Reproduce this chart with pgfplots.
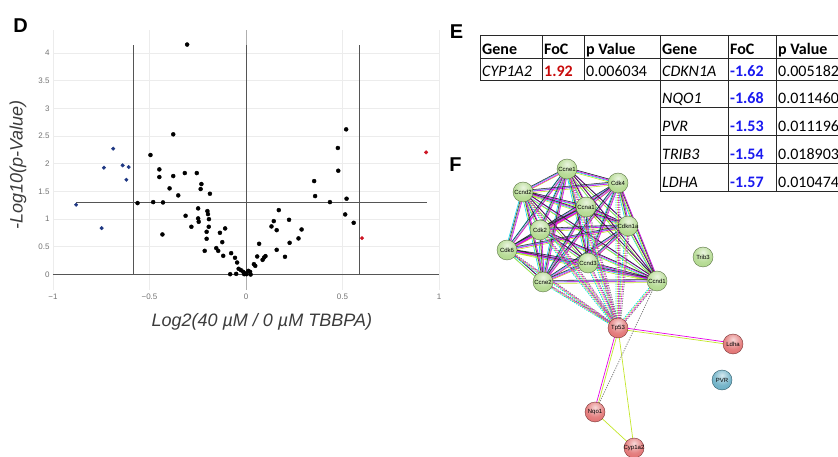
\documentclass[border=0pt]{standalone}
\usepackage{pgfplots}
\pgfplotsset{compat=1.18}
\usepackage{pgfplotstable}
\usepackage{fontspec}
\setmainfont{Liberation Sans}
\newfontfamily\calib{Carlito}

\definecolor{tickgray}{RGB}{115,115,115}
\definecolor{labgray}{RGB}{60,60,60}
\definecolor{linegray}{RGB}{85,85,85}
\definecolor{zerogray}{RGB}{175,175,175}
\definecolor{gridgray}{RGB}{236,236,236}
\definecolor{ptblue}{RGB}{30,55,130}
\definecolor{ptred}{RGB}{205,20,35}
\definecolor{valred}{RGB}{200,10,10}
\definecolor{valblue}{RGB}{25,25,240}
\definecolor{tabline}{RGB}{40,40,40}
\definecolor{scyan}{RGB}{0,215,235}
\definecolor{smag}{RGB}{230,0,230}
\definecolor{syel}{RGB}{195,230,40}
\definecolor{sblk}{RGB}{45,45,45}
\definecolor{slav}{RGB}{140,140,240}
\definecolor{ngreen}{RGB}{168,212,128}
\definecolor{nred}{RGB}{222,98,98}
\definecolor{nblue}{RGB}{88,165,190}

\pgfdeclareradialshading{gshade}{\pgfpoint{0bp}{12bp}}{%
  color(0bp)=(ngreen!25!white); color(22bp)=(ngreen!80!white);
  color(45bp)=(ngreen); color(62bp)=(ngreen!65!black); color(100bp)=(ngreen!65!black)}
\pgfdeclareradialshading{rshade}{\pgfpoint{0bp}{12bp}}{%
  color(0bp)=(nred!25!white); color(22bp)=(nred!80!white);
  color(45bp)=(nred); color(62bp)=(nred!65!black); color(100bp)=(nred!65!black)}
\pgfdeclareradialshading{bshade}{\pgfpoint{0bp}{12bp}}{%
  color(0bp)=(nblue!25!white); color(22bp)=(nblue!80!white);
  color(45bp)=(nblue); color(62bp)=(nblue!65!black); color(100bp)=(nblue!65!black)}
\pgfdeclareplotmark{gball}{\pgfpathcircle{\pgfpointorigin}{\pgfplotmarksize}\pgfshadepath{gshade}{0}\pgfusepath{stroke}}
\pgfdeclareplotmark{rball}{\pgfpathcircle{\pgfpointorigin}{\pgfplotmarksize}\pgfshadepath{rshade}{0}\pgfusepath{stroke}}
\pgfdeclareplotmark{bball}{\pgfpathcircle{\pgfpointorigin}{\pgfplotmarksize}\pgfshadepath{bshade}{0}\pgfusepath{stroke}}

% volcano data
\pgfplotstableread{
x y
-0.305 4.157
-0.377 2.534
-0.495 2.160
-0.449 1.900
-0.449 1.762
-0.377 1.780
-0.317 1.834
-0.255 1.834
-0.231 1.635
-0.235 1.545
-0.187 1.460
-0.396 1.557
-0.351 1.430
-0.562 1.291
-0.481 1.309
-0.430 1.303
-0.433 0.724
-0.313 1.062
-0.283 0.863
-0.248 1.195
-0.248 1.014
-0.245 0.953
-0.200 1.146
-0.197 1.092
-0.192 1.001
-0.193 0.863
-0.204 0.772
-0.204 0.646
-0.214 0.428
-0.154 0.477
-0.144 0.428
-0.135 0.754
-0.123 0.585
-0.108 0.833
-0.118 0.338
-0.077 0.386
-0.057 0.302
-0.046 0.217
-0.082 0.006
-0.051 0.012
-0.038 0.103
-0.026 0.078
-0.014 0.048
-0.003 0.018
0.003 0.006
0.012 0.066
0.021 0.048
0.024 0.000
-0.009 0.006
0.041 0.187
0.048 0.157
0.058 0.326
0.068 0.555
0.086 0.265
0.094 0.308
0.101 0.332
0.132 0.869
0.144 0.965
0.159 0.802
0.170 1.164
0.159 0.446
0.202 0.320
0.226 0.573
0.223 0.989
0.272 0.652
0.288 0.814
0.353 1.689
0.358 1.418
0.435 1.309
0.476 2.287
0.478 1.876
0.519 2.624
0.521 1.370
0.514 1.086
0.558 0.935
}\blackpts

\pgfplotstableread{
x y
-0.880 1.261
-0.748 0.839
-0.736 1.931
-0.688 2.275
-0.639 1.973
-0.608 1.943
-0.620 1.713
}\bluepts

\pgfplotstableread{
x y
0.933 2.208
0.601 0.658
}\redpts

% network (pixel coordinates of the figure)
\pgfplotstableread{
x y
567 169
618 183
nan nan
567 169
523 192
nan nan
567 169
586 207
nan nan
567 169
628 226
nan nan
567 169
540 230
nan nan
567 169
507 250
nan nan
567 169
588 263
nan nan
567 169
543 282
nan nan
567 169
657 281
nan nan
618 183
523 192
nan nan
618 183
586 207
nan nan
618 183
628 226
nan nan
618 183
540 230
nan nan
618 183
507 250
nan nan
618 183
588 263
nan nan
618 183
543 282
nan nan
618 183
657 281
nan nan
523 192
586 207
nan nan
523 192
628 226
nan nan
523 192
540 230
nan nan
523 192
507 250
nan nan
523 192
588 263
nan nan
523 192
543 282
nan nan
523 192
657 281
nan nan
586 207
628 226
nan nan
586 207
540 230
nan nan
586 207
507 250
nan nan
586 207
588 263
nan nan
586 207
543 282
nan nan
586 207
657 281
nan nan
628 226
540 230
nan nan
628 226
507 250
nan nan
628 226
588 263
nan nan
628 226
543 282
nan nan
628 226
657 281
nan nan
540 230
507 250
nan nan
540 230
588 263
nan nan
540 230
543 282
nan nan
540 230
657 281
nan nan
507 250
588 263
nan nan
507 250
543 282
nan nan
507 250
657 281
nan nan
588 263
543 282
nan nan
588 263
657 281
nan nan
543 282
657 281
}\clusteredges

\pgfplotstableread{
x y
618 328
567 169
nan nan
618 328
618 183
nan nan
618 328
523 192
nan nan
618 328
586 207
nan nan
618 328
628 226
nan nan
618 328
540 230
nan nan
618 328
507 250
nan nan
618 328
588 263
nan nan
618 328
543 282
nan nan
618 328
657 281
}\tpedges

\pgfplotstableread{
x y label
567 169 Ccne1
618 183 Cdk4
523 192 Ccnd2
586 207 Ccna1
628 226 Cdkn1a
540 230 Cdk2
507 250 Cdk6
588 263 Ccnd3
543 282 Ccne2
657 281 Ccnd1
703 257 Trib3
}\greennodes

\pgfplotstableread{
x y label
618 328 Tp53
733 344 Ldha
595 412 Nqo1
634 448 Cyp1a2
}\rednodes

\pgfplotstableread{
x y label
722 380 PVR
}\bluenodes

\begin{document}
\begin{tikzpicture}
\path[use as bounding box] (0pt,0pt) rectangle (838pt,457pt);

% ---------------- D: volcano plot ----------------
\begin{axis}[
  at={(53pt,167pt)}, anchor=south west,
  scale only axis, width=386pt, height=260pt,
  xmin=-1, xmax=1, ymin=-0.28, ymax=4.42,
  axis line style={draw=none},
  tick style={draw=none},
  xtick={-1,-0.5,0,0.5,1},
  xticklabels={−1,−0.5,0,0.5,1},
  ytick={0,0.5,1,1.5,2,2.5,3,3.5,4},
  yticklabels={0,0.5,1,1.5,2,2.5,3,3.5,4},
  grid=major,
  major grid style={draw=gridgray, line width=0.8pt},
  tick label style={font=\fontsize{8}{9}\selectfont, text=tickgray},
  xlabel={\textit{Log2(40 µM / 0 µM TBBPA)}},
  ylabel={\textit{-Log10(p-Value)}},
  xlabel style={at={(axis description cs:0.541,-0.123)}, anchor=center,
    font=\fontsize{18}{20}\selectfont, text=labgray},
  ylabel style={at={(axis description cs:-0.091,0.481)}, anchor=center,
    font=\fontsize{18}{20}\selectfont, text=labgray},
  clip=false,
]
\addplot[draw=zerogray, line width=0.9pt] coordinates {(0,-0.28) (0,4.42)};
\addplot[draw=linegray, line width=0.9pt] coordinates {(-1,0) (1,0)};
\addplot[draw=linegray, line width=0.8pt] coordinates {(0,0) (0,4.15)};
\addplot[draw=linegray, line width=0.8pt] coordinates {(-0.585,0) (-0.585,4.15)};
\addplot[draw=linegray, line width=0.8pt] coordinates {(0.585,0) (0.585,4.15)};
\addplot[draw=linegray, line width=0.8pt] coordinates {(-0.88,1.301) (0.94,1.301)};
\addplot[only marks, mark=*, mark size=2pt, draw=black, fill=black] table[x=x,y=y] {\blackpts};
\addplot[only marks, mark=*, mark size=1.8pt, draw=ptblue, fill=ptblue] table[x=x,y=y] {\bluepts};
\addplot[only marks, mark=*, mark size=1.8pt, draw=ptred, fill=ptred] table[x=x,y=y] {\redpts};
\end{axis}

% ---------------- F: network ----------------
\begin{axis}[
  at={(490pt,0pt)}, anchor=south west,
  scale only axis, width=270pt, height=317pt,
  xmin=490, xmax=760, ymin=140, ymax=457,
  y dir=reverse,
  hide axis, clip=false,
  unbounded coords=jump,
]
% cluster edges (multi-coloured bundles)
\addplot[no marks, draw=scyan, line width=0.6pt, xshift=-1.5pt] table[x=x,y=y] {\clusteredges};
\addplot[no marks, draw=syel, line width=0.6pt, yshift=-1.5pt] table[x=x,y=y] {\clusteredges};
\addplot[no marks, draw=slav, line width=0.6pt, xshift=1pt, yshift=1pt] table[x=x,y=y] {\clusteredges};
\addplot[no marks, draw=smag, line width=0.6pt, xshift=1.5pt] table[x=x,y=y] {\clusteredges};
\addplot[no marks, draw=sblk, line width=0.55pt, yshift=1.5pt] table[x=x,y=y] {\clusteredges};
% dashed edges to Tp53
\addplot[no marks, draw=scyan, line width=0.9pt, dash pattern=on 1.2pt off 1.2pt, xshift=-2pt] table[x=x,y=y] {\tpedges};
\addplot[no marks, draw=syel, line width=0.9pt, dash pattern=on 1.2pt off 1.2pt, xshift=-0.7pt] table[x=x,y=y] {\tpedges};
\addplot[no marks, draw=smag, line width=0.9pt, dash pattern=on 1.2pt off 1.2pt, xshift=0.6pt] table[x=x,y=y] {\tpedges};
\addplot[no marks, draw=gray, line width=0.9pt, dash pattern=on 1.2pt off 1.2pt, xshift=1.9pt] table[x=x,y=y] {\tpedges};
% other edges
\addplot[no marks, draw=smag, line width=0.7pt] coordinates {(618,327) (733,343)};
\addplot[no marks, draw=syel, line width=0.7pt] coordinates {(618,329) (733,345)};
\addplot[no marks, draw=smag, line width=0.7pt] coordinates {(617,328) (594,412)};
\addplot[no marks, draw=syel, line width=0.7pt] coordinates {(619,328) (596,412)};
\addplot[no marks, draw=syel, line width=0.7pt] coordinates {(618,328) (634,448)};
\addplot[no marks, draw=syel, line width=0.7pt] coordinates {(595,412) (634,448)};
\addplot[no marks, draw=gray, line width=0.8pt, dash pattern=on 1.2pt off 1.2pt] coordinates {(595,412) (657,281)};
% nodes
\addplot[only marks, mark=gball, mark size=10pt, mark options={draw=ngreen!55!black, line width=0.4pt},
  point meta=explicit symbolic, nodes near coords, nodes near coords align={center},
  every node near coord/.append style={anchor=center, inner sep=0pt, font=\fontsize{6}{6}\selectfont, text=black}]
  table[x=x,y=y,meta=label] {\greennodes};
\addplot[only marks, mark=rball, mark size=10pt, mark options={draw=nred!55!black, line width=0.4pt},
  point meta=explicit symbolic, nodes near coords, nodes near coords align={center},
  every node near coord/.append style={anchor=center, inner sep=0pt, font=\fontsize{6}{6}\selectfont, text=black}]
  table[x=x,y=y,meta=label] {\rednodes};
\addplot[only marks, mark=bball, mark size=10pt, mark options={draw=nblue!55!black, line width=0.4pt},
  point meta=explicit symbolic, nodes near coords, nodes near coords align={center},
  every node near coord/.append style={anchor=center, inner sep=0pt, font=\fontsize{6}{6}\selectfont, text=black}]
  table[x=x,y=y,meta=label] {\bluenodes};
\end{axis}

% ---------------- panel letters and table E ----------------
\begin{scope}[x=1pt, y=-1pt, yshift=457pt]
\node[font=\bfseries\fontsize{20}{20}\selectfont, inner sep=0pt] at (20.5,25.5) {D};
\node[font=\bfseries\fontsize{20}{20}\selectfont, inner sep=0pt] at (456.5,31.5) {E};
\node[font=\bfseries\fontsize{20}{20}\selectfont, inner sep=0pt] at (455.5,164.5) {F};

\draw[tabline, line width=0.8pt]
  (480,35) -- (870,35)
  (480,58.5) -- (870,58.5)
  (480,80.5) -- (870,80.5)
  (660,107.5) -- (870,107.5)
  (660,135.5) -- (870,135.5)
  (660,163.5) -- (870,163.5)
  (660,191.5) -- (870,191.5)
  (480,35) -- (480,80.5)
  (542,35) -- (542,80.5)
  (584,35) -- (584,80.5)
  (660,35) -- (660,191.5)
  (728,35) -- (728,191.5)
  (776,35) -- (776,191.5);

\begin{scope}[every node/.style={anchor=base west, inner sep=0pt, font=\calib\fontsize{16}{18}\selectfont}]
\node at (482,54.5) {\bfseries Gene};
\node at (544,54.5) {\bfseries FoC};
\node at (586,54.5) {\bfseries p Value};
\node at (662,54.5) {\bfseries Gene};
\node at (730,54.5) {\bfseries FoC};
\node at (778,54.5) {\bfseries p Value};

\node at (482,76.5) {\itshape CYP1A2};
\node[text=valred] at (544,76.5) {\bfseries 1.92};
\node at (586,76.5) {0.006034};
\node at (662,76.5) {\itshape CDKN1A};
\node[text=valblue] at (730,76.5) {\bfseries -1.62};
\node at (778,76.5) {0.005182};

\node at (662,103.5) {\itshape NQO1};
\node[text=valblue] at (730,103.5) {\bfseries -1.68};
\node at (778,103.5) {0.011460};

\node at (662,131.5) {\itshape PVR};
\node[text=valblue] at (730,131.5) {\bfseries -1.53};
\node at (778,131.5) {0.011196};

\node at (662,159.5) {\itshape TRIB3};
\node[text=valblue] at (730,159.5) {\bfseries -1.54};
\node at (778,159.5) {0.018903};

\node at (662,187.5) {\itshape LDHA};
\node[text=valblue] at (730,187.5) {\bfseries -1.57};
\node at (778,187.5) {0.010474};
\end{scope}
\end{scope}
\end{tikzpicture}
\end{document}
